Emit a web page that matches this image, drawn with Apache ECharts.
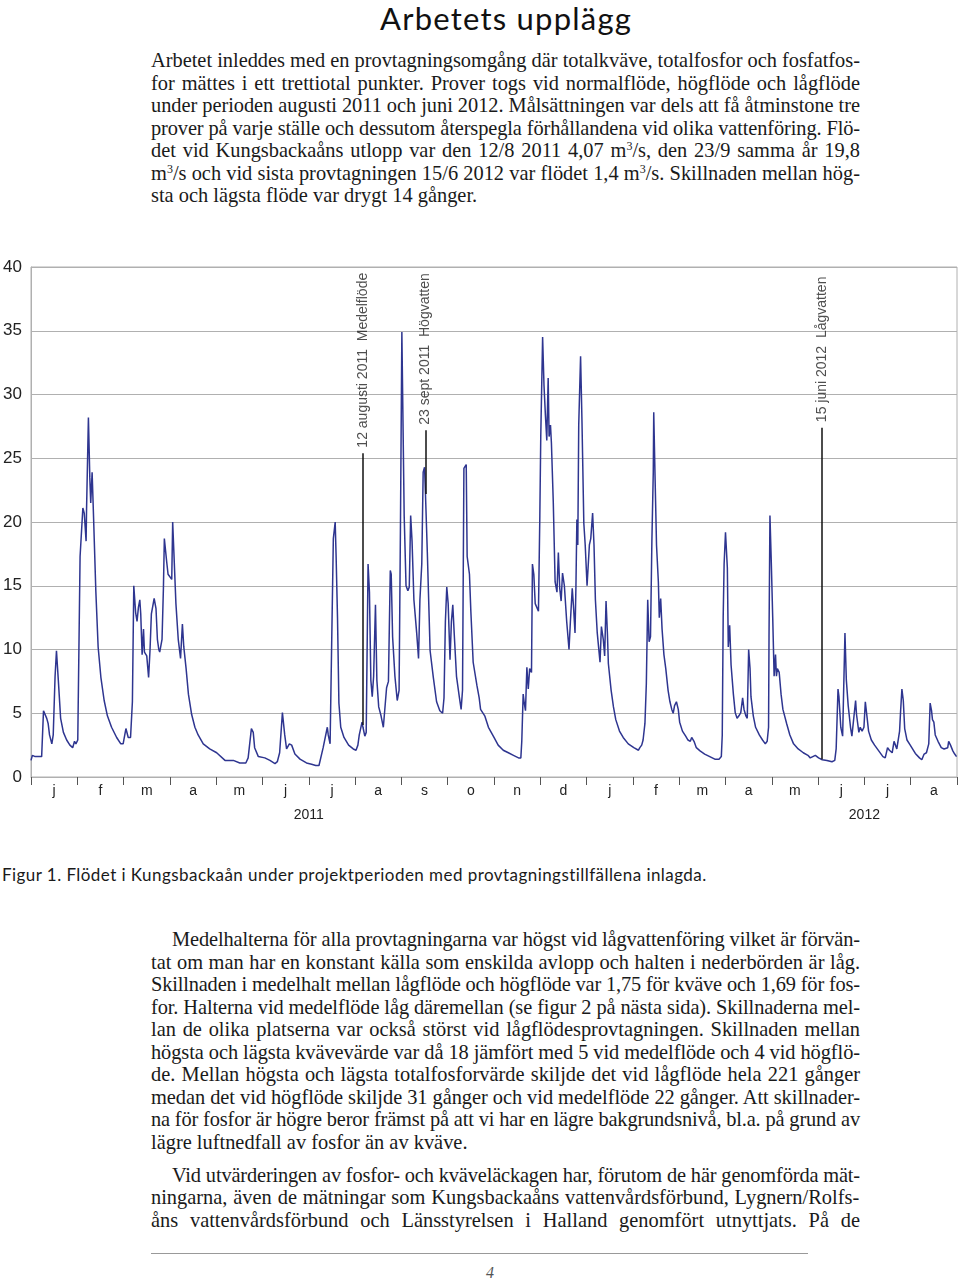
<!DOCTYPE html>
<html><head><meta charset="utf-8">
<script src="https://cdn.jsdelivr.net/npm/echarts@6/dist/echarts.min.js"></script>
<style>
html,body{margin:0;padding:0;background:#fff;}
body{width:960px;height:1282px;position:relative;overflow:hidden;}
.ln{position:absolute;font-family:'Liberation Serif','Times New Roman',serif;font-size:20.4px;line-height:24px;color:#1a1a1a;white-space:nowrap;}
#title{position:absolute;left:380px;top:0px;font-family:Lato,'Open Sans',sans-serif;font-size:31px;line-height:36px;color:#111;white-space:nowrap;}
#cap{position:absolute;left:2px;top:864px;font-family:Lato,'Open Sans',sans-serif;font-size:17px;line-height:22px;color:#1a1a1a;white-space:nowrap;}
#rule{position:absolute;left:151px;top:1253px;width:657px;height:0;border-top:1px solid #999;}
#pg{position:absolute;left:486px;top:1262px;font-family:'Liberation Serif',serif;font-style:italic;font-size:16px;line-height:22px;color:#555;}
#chart{position:absolute;left:0;top:250px;width:960px;height:580px;}
</style></head>
<body>
<div id="title" data-w="252">Arbetets upplägg</div>
<div id="text"></div>
<div id="chart"></div>
<div id="cap" data-w="705">Figur 1. Flödet i Kungsbackaån under projektperioden med provtagningstillfällena inlagda.</div>
<div id="rule"></div>
<div id="pg">4</div>
<script>
// ---------- chart data ----------
const months = ['j','f','m','a','m','j','j','a','s','o','n','d','j','f','m','a','m','j','j','a'];
const yearLabels = {6:'2011', 18:'2012'};
const yTicks = [0,5,10,15,20,25,30,35,40];
// x position in months since 1 Jan 2011
const flowX = [0.00,0.03,0.09,0.23,0.27,0.34,0.37,0.40,0.45,0.48,0.52,0.55,0.59,0.64,0.70,0.77,0.84,0.90,0.94,0.97,
1.01,1.06,1.12,1.15,1.19,1.20,1.24,1.27,1.29,1.32,1.35,1.40,1.45,1.51,1.58,1.65,1.74,1.85,1.94,1.99,
2.05,2.10,2.15,2.19,2.22,2.26,2.29,2.32,2.35,2.37,2.40,2.43,2.45,2.50,2.54,2.57,2.60,2.63,2.66,2.70,2.73,2.76,2.78,2.83,2.86,2.88,2.93,2.96,
3.00,3.04,3.06,3.09,3.13,3.18,3.23,3.27,3.30,3.35,3.40,3.47,3.54,3.61,3.72,3.86,4.01,4.19,4.37,4.51,4.64,4.69,4.73,4.76,4.80,4.83,4.91,
5.05,5.16,5.27,5.32,5.37,5.43,5.48,5.52,5.58,5.63,5.70,5.81,5.95,6.06,6.15,6.22,6.31,6.35,6.40,6.42,6.46,
6.50,6.53,6.57,6.59,6.62,6.65,6.69,6.76,6.86,6.96,7.02,7.06,7.09,7.12,7.15,7.17,7.21,7.24,7.28,7.31,7.34,7.37,7.40,7.44,7.47,7.51,7.56,7.61,7.65,7.68,7.72,7.76,7.78,7.81,7.86,7.91,7.95,7.98,
8.01,8.06,8.10,8.14,8.17,8.20,8.23,8.27,8.33,8.37,8.40,8.44,8.47,8.50,8.52,8.56,8.62,8.69,8.76,8.83,8.89,8.92,8.95,8.98,
9.01,9.05,9.08,9.11,9.14,9.19,9.25,9.29,9.32,9.35,9.40,9.42,9.47,9.50,9.55,9.63,9.68,9.71,9.75,9.80,9.88,
10.00,10.09,10.20,10.31,10.42,10.53,10.58,10.60,10.63,10.65,10.68,10.71,10.74,10.77,10.81,10.83,10.86,10.89,10.92,10.96,10.99,
11.01,11.05,11.08,11.11,11.14,11.17,11.19,11.22,11.24,11.28,11.32,11.36,11.39,11.42,11.45,11.48,11.52,11.57,11.62,11.65,11.69,11.72,11.75,11.77,11.79,11.81,11.83,11.87,11.90,11.94,11.97,
12.01,12.04,12.06,12.09,12.13,12.16,12.19,12.23,12.29,12.32,12.36,12.39,12.42,12.45,12.47,12.53,12.58,12.63,12.71,12.79,12.90,
13.02,13.12,13.15,13.19,13.22,13.26,13.29,13.32,13.35,13.38,13.41,13.44,13.45,13.48,13.51,13.55,13.57,13.60,13.63,13.67,13.71,13.76,13.80,13.84,13.87,13.90,13.94,13.98,
14.01,14.07,14.14,14.19,14.24,14.27,14.32,14.37,14.45,14.55,14.66,14.77,14.86,14.91,14.93,14.95,14.97,
15.00,15.04,15.06,15.09,15.12,15.17,15.21,15.25,15.29,15.33,15.37,15.40,15.44,15.47,15.50,15.53,15.55,15.60,15.65,15.73,15.80,15.86,15.90,15.93,15.94,15.96,15.99,
16.02,16.05,16.08,16.10,16.12,16.16,16.20,16.24,16.32,16.39,16.47,16.57,16.68,16.78,16.83,16.94,
17.01,17.09,17.19,17.30,17.36,17.39,17.43,17.45,17.49,17.53,17.55,17.58,17.61,17.65,17.70,17.73,17.77,17.81,17.83,17.88,17.91,17.95,17.99,
18.02,18.06,18.09,18.15,18.22,18.31,18.40,18.45,18.50,18.54,18.60,18.64,18.67,18.70,18.76,18.78,18.81,18.84,18.87,18.92,18.99,
19.10,19.19,19.24,19.29,19.34,19.39,19.42,19.45,19.47,19.50,19.53,19.59,19.66,19.72,19.76,19.80,19.82,19.86,19.91,19.95,19.99];
// flow, m3/s
const flowY = [1.3,1.7,1.6,1.6,5.2,4.6,4.2,3.3,2.6,3.3,7.9,9.9,7.6,4.6,3.5,2.9,2.5,2.3,2.8,2.6,
2.9,17.3,21.1,20.7,18.5,21.0,28.2,23.5,21.5,23.9,20.5,14.6,10.2,7.8,6.0,4.8,3.9,3.1,2.6,2.6,
3.8,3.1,3.1,5.9,15.0,12.9,12.2,13.3,13.9,12.8,9.6,11.6,9.8,9.5,7.8,9.9,12.8,12.9,14.0,13.2,10.8,10.0,9.8,10.8,14.8,18.7,16.9,15.9,
15.8,15.5,20.0,19.9,13.6,10.8,9.3,12.0,10.2,8.5,6.5,4.9,3.9,3.3,2.6,2.2,1.9,1.3,1.3,1.1,1.1,1.5,1.6,3.8,3.5,2.3,1.6,
1.5,1.3,1.05,1.2,1.9,5.05,3.3,2.2,2.6,2.5,1.8,1.4,1.1,1.0,0.9,0.9,2.3,2.2,3.9,3.3,2.6,
2.6,18.7,20.0,17.3,12.5,5.8,3.9,3.1,2.5,2.2,2.1,2.5,3.3,3.4,4.3,3.9,3.2,3.5,16.7,14.5,7.6,6.3,7.9,13.5,7.6,5.5,4.8,3.9,3.9,7.0,7.5,16.2,15.9,11.0,7.9,6.0,6.8,19.9,
34.9,20.5,15.0,14.6,14.9,20.5,18.5,13.9,11.3,9.3,13.9,16.7,23.9,24.3,22.2,17.6,9.9,7.8,5.9,5.2,5.0,6.2,12.2,14.9,
13.6,9.2,12.2,13.5,11.3,7.9,6.3,5.3,6.8,24.2,24.5,17.3,15.9,13.0,9.0,7.2,6.2,5.3,5.3,4.8,3.9,
3.1,2.5,2.1,1.9,1.7,1.5,1.5,2.8,6.5,5.9,5.2,8.6,6.9,8.5,8.2,16.7,15.9,13.6,13.5,13.0,20.5,
26.7,34.5,30.7,28.4,26.4,31.3,26.7,27.6,26.2,21.6,15.3,14.5,17.6,14.8,13.8,16.0,15.0,12.2,10.0,12.2,14.8,13.2,11.3,15.0,20.2,18.2,27.6,33.0,27.9,19.9,18.2,
15.0,14.9,18.2,18.7,20.7,18.2,13.9,11.3,9.0,11.8,10.8,9.5,13.8,11.2,8.9,6.8,5.5,4.5,3.6,3.1,2.6,
2.3,2.1,2.3,2.5,2.9,4.2,7.3,13.9,10.6,11.0,18.5,23.9,28.6,23.3,18.2,15.3,12.5,14.0,11.6,9.6,8.5,6.8,5.9,5.3,5.0,5.6,5.9,5.3,
4.3,3.6,3.2,2.9,2.8,3.1,2.8,2.3,2.05,1.8,1.6,1.4,1.4,1.6,3.3,12.5,16.7,
19.2,16.4,10.2,11.9,8.8,6.5,5.05,4.6,4.8,5.05,6.2,5.3,4.8,4.6,10.0,8.5,6.3,4.8,3.9,3.3,2.9,2.6,2.8,3.9,11.0,20.5,16.7,
12.5,7.9,9.6,7.9,8.5,8.2,6.5,5.3,4.2,3.3,2.6,2.2,1.9,1.7,1.5,1.7,
1.5,1.35,1.3,1.2,1.3,2.2,6.9,6.3,3.9,3.2,6.5,11.3,7.6,5.6,3.9,3.2,3.3,6.0,4.9,3.5,3.9,3.6,3.9,
5.9,4.6,3.6,2.9,2.5,2.05,1.6,1.5,2.3,2.1,1.9,2.8,2.5,2.2,3.6,5.05,6.9,6.0,3.8,2.9,2.5,
1.85,1.5,1.35,1.8,1.9,2.6,5.8,5.2,4.5,4.3,3.3,2.8,2.3,2.2,2.1,2.3,2.8,2.5,2.05,1.8,1.6];
// sampling occasions
const annDates = ['12 augusti 2011','23 sept 2011','15 juni 2012'];
const annTypes = ['Medelflöde','Högvatten','Lågvatten'];
const annX = [7.165, 8.52, 17.086];
const annBottom = [4.07, 22.2, 1.4];
const annTop = [25.4, 27.2, 27.4];

// ---------- text ----------
const para1 = [
 'Arbetet inleddes med en provtagningsomgång där totalkväve, totalfosfor och fosfatfos-',
 'for mättes i ett trettiotal punkter. Prover togs vid normalflöde, högflöde och lågflöde',
 'under perioden augusti 2011 och juni 2012. Målsättningen var dels att få åtminstone tre',
 'prover på varje ställe och dessutom återspegla förhållandena vid olika vattenföring. Flö-',
 'det vid Kungsbackaåns utlopp var den 12/8 2011 4,07 m<sup>3</sup>/s, den 23/9 samma år 19,8',
 'm<sup>3</sup>/s och vid sista provtagningen 15/6 2012 var flödet 1,4 m<sup>3</sup>/s. Skillnaden mellan hög-',
 'sta och lägsta flöde var drygt 14 gånger.'];
const para2 = [
 'Medelhalterna för alla provtagningarna var högst vid lågvattenföring vilket är förvän-',
 'tat om man har en konstant källa som enskilda avlopp och halten i nederbörden är låg.',
 'Skillnaden i medelhalt mellan lågflöde och högflöde var 1,75 för kväve och 1,69 för fos-',
 'for. Halterna vid medelflöde låg däremellan (se figur 2 på nästa sida). Skillnaderna mel-',
 'lan de olika platserna var också störst vid lågflödesprovtagningen. Skillnaden mellan',
 'högsta och lägsta kvävevärde var då 18 jämfört med 5 vid medelflöde och 4 vid högflö-',
 'de. Mellan högsta och lägsta totalfosforvärde skiljde det vid lågflöde hela 221 gånger',
 'medan det vid högflöde skiljde 31 gånger och vid medelflöde 22 gånger. Att skillnader-',
 'na för fosfor är högre beror främst på att vi har en lägre bakgrundsnivå, bl.a. på grund av',
 'lägre luftnedfall av fosfor än av kväve.'];
const para3 = [
 'Vid utvärderingen av fosfor- och kväveläckagen har, förutom de här genomförda mät-',
 'ningarna,  även de mätningar som Kungsbackaåns vattenvårdsförbund, Lygnern/Rolfs-',
 'åns vattenvårdsförbund och Länsstyrelsen i Halland genomfört utnyttjats. På de'];

const textBox = document.getElementById('text');
function addPara(lines, top0, step, justifyLast, indent){
  lines.forEach((t,i)=>{
    const d = document.createElement('div');
    d.className='ln';
    const left = (i===0 && indent) ? 172 : 151;
    d.style.left = left+'px';
    d.style.top = (top0 + i*step)+'px';
    d.innerHTML = t.replace(/<sup>/g,'<sup style="font-size:12px;line-height:0;vertical-align:7px">');
    const last = i===lines.length-1;
    if(!last || justifyLast) d.dataset.j = String(860-left);
    textBox.appendChild(d);
  });
}
addPara(para1, 48, 22.5, false, false);
addPara(para2, 927, 22.5, false, true);
addPara(para3, 1163, 22.3, true, true);

function fit(){
  document.querySelectorAll('[data-j]').forEach(el=>{
    const target = +el.dataset.j;
    const w = el.getBoundingClientRect().width;
    const sp = (el.textContent.match(/ /g)||[]).length;
    if(w > target){
      const n = el.textContent.length;
      el.style.letterSpacing = ((target-w)/n)+'px';
    } else if(sp>0) el.style.wordSpacing = ((target-w)/sp)+'px';
  });
  document.querySelectorAll('[data-w]').forEach(el=>{
    const target = +el.dataset.w;
    const w = el.getBoundingClientRect().width;
    const n = el.textContent.length;
    el.style.letterSpacing = ((target-w)/n)+'px';
  });
}
fit();

// ---------- chart ----------
const chart = echarts.init(document.getElementById('chart'), null, {renderer:'canvas'});
const flowData = flowX.map((x,i)=>[x, flowY[i]]);
const annPoints = annX.map((x,i)=>({value:[x, annTop[i]], name: annDates[i]+'  '+annTypes[i]}));
const annLines = annX.map((x,i)=>[{coord:[x, annBottom[i]]},{coord:[x, annTop[i]]}]);
chart.setOption({
  animation:false,
  backgroundColor:'#fff',
  grid:{left:31,right:3,top:17,bottom:53,containLabel:false,outerBoundsMode:'none',show:true,borderColor:'#b0b0b0',borderWidth:1},
  xAxis:[{
    type:'category', data:months, boundaryGap:true, position:'bottom',
    axisLine:{show:true,lineStyle:{color:'#b0b0b0',width:1}},
    axisTick:{show:true,length:8,interval:0,lineStyle:{color:'#555',width:1}},
    axisLabel:{interval:0,margin:7,fontFamily:'Liberation Sans, Arial, sans-serif',fontSize:14,color:'#222'},
    splitLine:{show:false}
  },{
    type:'value', min:0, max:20, interval:6, position:'bottom', offset:27,
    axisLine:{show:false}, axisTick:{show:false}, splitLine:{show:false},
    axisLabel:{margin:4,fontFamily:'Liberation Sans, Arial, sans-serif',fontSize:14,color:'#222',
      formatter:v=>yearLabels[v]||''}
  }],
  yAxis:{
    type:'value', min:yTicks[0], max:yTicks[yTicks.length-1], interval:5,
    axisLine:{show:true,lineStyle:{color:'#b0b0b0'}},
    axisTick:{show:false},
    axisLabel:{margin:9,fontFamily:'Liberation Sans, Arial, sans-serif',fontSize:17,color:'#222'},
    splitLine:{show:true,lineStyle:{color:'#b0b0b0',width:1}}
  },
  series:[{
    type:'line', xAxisIndex:1, data:flowData, showSymbol:false, symbol:'none',
    lineStyle:{color:'#2e3590',width:1.5}, z:3
  },{
    type:'scatter', xAxisIndex:1, data:annPoints, symbol:'circle', symbolSize:1,
    itemStyle:{color:'rgba(0,0,0,0)'}, z:4,
    label:{show:true,position:'top',distance:5,rotate:90,align:'left',verticalAlign:'middle',
      formatter:p=>p.name,fontFamily:'Liberation Sans, Arial, sans-serif',fontSize:14,color:'#222'},
    markLine:{silent:true,symbol:['none','none'],label:{show:false},
      lineStyle:{color:'#111',width:1.5,type:'solid'},data:annLines}
  }]
});
</script>
</body></html>
